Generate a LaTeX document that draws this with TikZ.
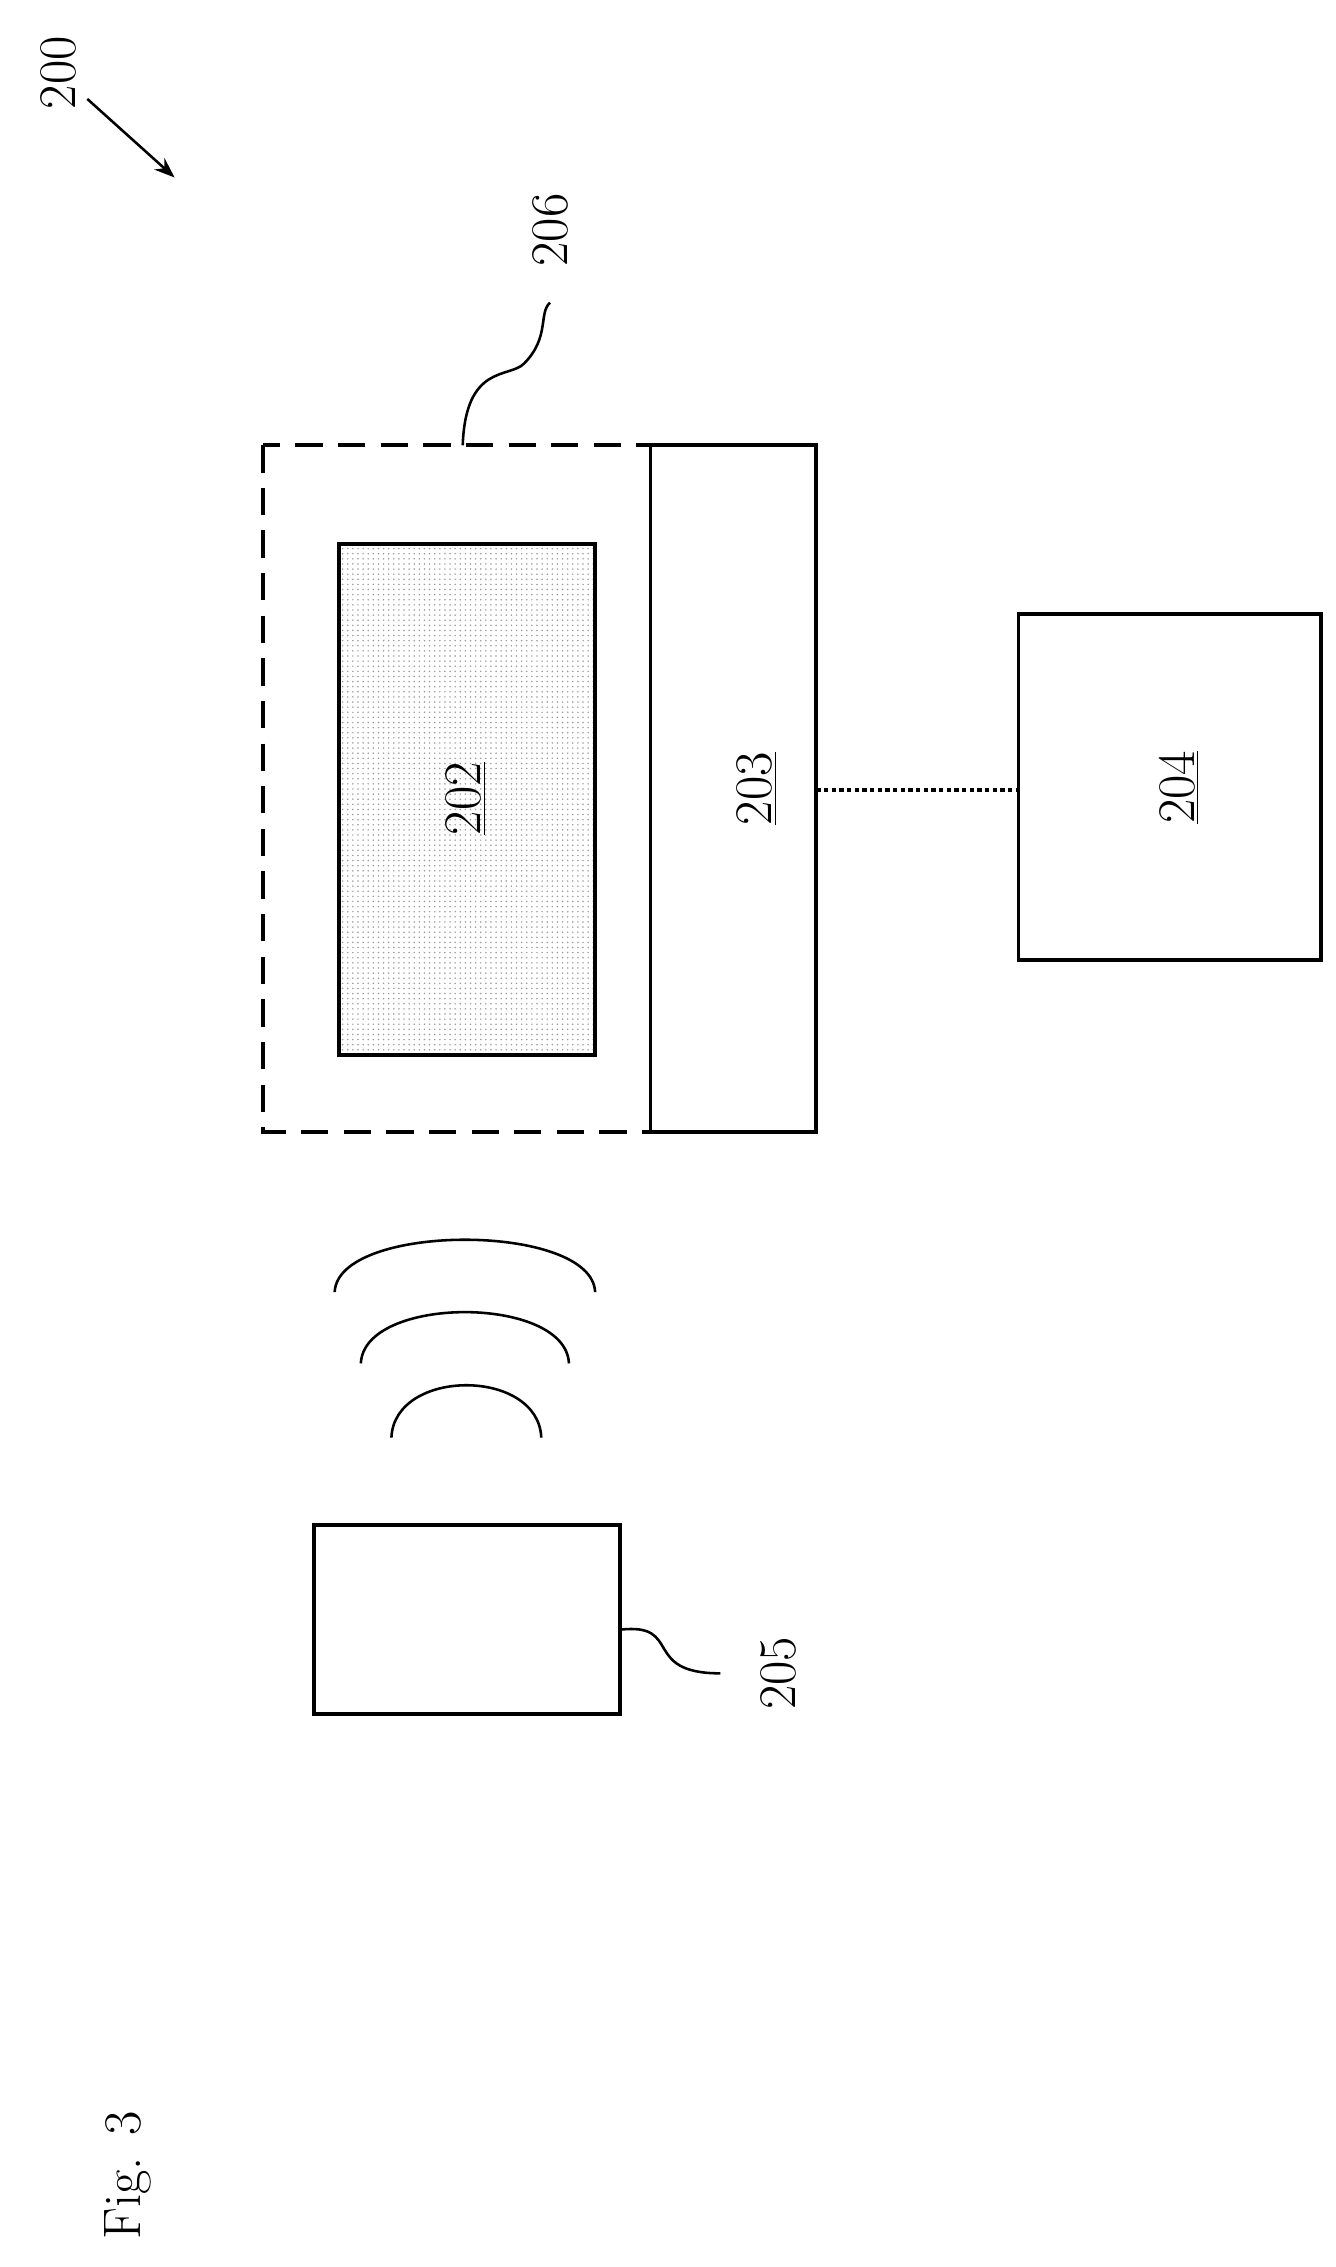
\documentclass[tikz,border=0pt]{standalone}
\usetikzlibrary{patterns,arrows.meta}
\begin{document}
\begin{tikzpicture}[x=0.03cm,y=-0.03cm,line width=2.2pt,
  lbl/.style={rotate=90,font=\fontsize{31}{36}\selectfont},
  box/.style={draw,line width=2.2pt}]
\useasboundingbox (0,0) rectangle (918,1558);
\draw[box,dashed,dash pattern=on 16pt off 9pt] (181,306) rectangle (447,778);
\draw[box,pattern=dots,pattern color=gray!80] (233,374) rectangle (409,725);
\node[lbl] (t202) at (320,549) {\underline{202}};
\draw[box] (447,306) rectangle (561,778);
\coordinate (r203) at (561,543);
\node[lbl] (t203) at (520,542) {\underline{203}};
\draw[box] (700,422) rectangle (908,660);
\coordinate (l204) at (700,543);
\node[lbl] (t204) at (810,541) {\underline{204}};
\draw[dotted,line width=2.5pt] (r203) -- (l204);
\draw[box] (216,1048) rectangle (426,1178);
\coordinate (a205) at (426,1120);
\node[lbl] (t205) at (535,1150) {205};
\draw[line width=1.5pt] (a205) .. controls (470,1115) and (440,1150) .. (495,1150);
\coordinate (a206) at (318,306);
\node[lbl] (t206) at (378,158) {206};
\draw[line width=1.5pt] (a206) .. controls (320,250) and (350,260) .. (360,250) .. controls (378,232) and (370,215) .. (378,208);
\node[lbl] (t200) at (40,50) {200};
\coordinate (s200) at (60,68);
\coordinate (e200) at (120,122);
\draw[line width=1.5pt,-{Stealth[length=12pt,width=9pt]}] (s200) -- (e200);
\draw[line width=1.5pt] (230,888) .. controls (232,840) and (407,840) .. (409,888);
\draw[line width=1.5pt] (248,937) .. controls (250,890) and (389,890) .. (391,937);
\draw[line width=1.5pt] (269,988) .. controls (271,940) and (370,940) .. (372,988);
\node[lbl] (fig) at (88,1495) {Fig. 3};
\end{tikzpicture}
\end{document}
